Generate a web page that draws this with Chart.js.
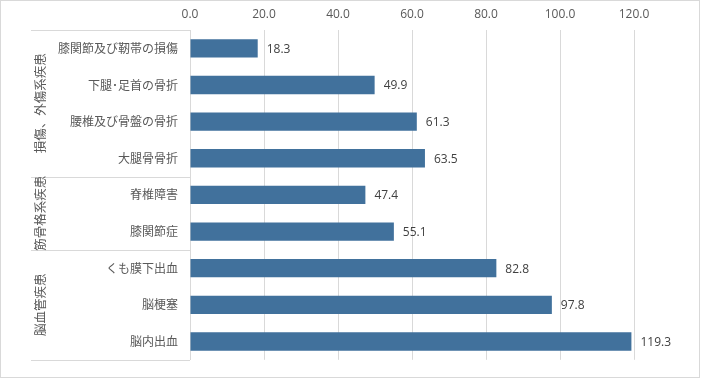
<!DOCTYPE html>
<html>
<head>
<meta charset="utf-8">
<script src="https://cdn.jsdelivr.net/npm/chart.js@4/dist/chart.umd.min.js"></script>
<style>
html,body{margin:0;padding:0;background:#fff;}
#wrap{width:701px;height:379px;position:relative;}
</style>
</head>
<body>
<div id="wrap"><canvas id="c"></canvas></div>
<script>
const categories = ['膝関節及び靭帯の損傷','下腿･足首の骨折','腰椎及び骨盤の骨折','大腿骨骨折','脊椎障害','膝関節症','くも膜下出血','脳梗塞','脳内出血'];
const values = [18.3, 49.9, 61.3, 63.5, 47.4, 55.1, 82.8, 97.8, 119.3];
const groupLabels = ['損傷、外傷系疾患','筋骨格系疾患','脳血管疾患'];
const groupSizes = [4, 2, 3];
const tickMin = 0, tickMax = 120, tickStep = 20;

const JP = '"Noto Sans CJK JP", "Noto Sans", sans-serif';
const NUM = '"Open Sans", "Liberation Sans", sans-serif';
const LINE = '#d9d9d9';

const extras = {
  id: 'extras',
  afterDraw(chart) {
    const ctx = chart.ctx;
    const y = chart.scales.y;
    const area = chart.chartArea;
    const half = (y.getPixelForValue(1) - y.getPixelForValue(0)) / 2;
    ctx.save();
    // outer border
    ctx.strokeStyle = LINE;
    ctx.lineWidth = 1;
    ctx.strokeRect(0.5, 0.5, chart.width - 2, chart.height - 2);
    // group separators and labels
    let start = 0;
    const lx0 = 31, lx1 = area.left;
    const lineAt = (py) => {
      ctx.beginPath();
      ctx.moveTo(lx0, Math.round(py) + 0.5);
      ctx.lineTo(lx1, Math.round(py) + 0.5);
      ctx.stroke();
    };
    lineAt(y.getPixelForValue(0) - half);
    groupSizes.forEach((n, gi) => {
      const top = y.getPixelForValue(start) - half;
      const bot = y.getPixelForValue(start + n - 1) + half;
      lineAt(bot);
      ctx.save();
      ctx.translate(40, (top + bot) / 2);
      ctx.rotate(-Math.PI / 2);
      ctx.fillStyle = '#595959';
      ctx.font = '12.5px ' + JP;
      ctx.textAlign = 'center';
      ctx.textBaseline = 'middle';
      ctx.fillText(groupLabels[gi], 0, 0);
      ctx.restore();
      start += n;
    });
    // data labels
    const meta = chart.getDatasetMeta(0);
    ctx.fillStyle = '#404040';
    ctx.font = '12px ' + NUM;
    ctx.textAlign = 'left';
    ctx.textBaseline = 'middle';
    meta.data.forEach((bar, i) => {
      ctx.fillText(values[i].toFixed(1), bar.x + 9, bar.y + 1);
    });
    ctx.restore();
  }
};

new Chart(document.getElementById('c'), {
  type: 'bar',
  data: {
    labels: categories,
    datasets: [{
      data: values,
      backgroundColor: '#41719c',
      borderWidth: 0,
      barPercentage: 0.5,
      categoryPercentage: 1.0
    }]
  },
  options: {
    indexAxis: 'y',
    responsive: true,
    maintainAspectRatio: false,
    animation: false,
    layout: { padding: { left: 0, right: 67, top: 0, bottom: 15 } },
    plugins: { legend: { display: false }, tooltip: { enabled: false } },
    scales: {
      x: {
        position: 'top',
        min: tickMin, max: tickMax,
        ticks: {
          stepSize: tickStep,
          callback: v => Number(v).toFixed(1),
          color: '#595959',
          font: { family: NUM, size: 12 },
          padding: 8
        },
        grid: { color: LINE, drawTicks: false },
        border: { display: false },
        afterFit(s) { s.height = 30; }
      },
      y: {
        ticks: {
          color: '#595959',
          font: { family: JP, size: 12 },
          padding: 12
        },
        grid: { display: false, drawTicks: false },
        border: { display: true, color: LINE },
        afterFit(s) { s.width = 190; }
      }
    }
  },
  plugins: [extras]
});
</script>
</body>
</html>
